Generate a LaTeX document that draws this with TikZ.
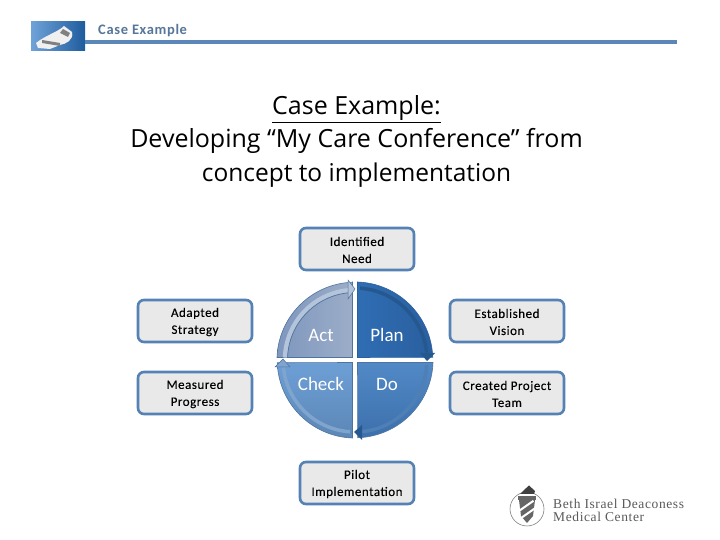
\documentclass[tikz,border=0pt]{standalone}
\usepackage{fontspec}
\setmainfont{Carlito}
\newfontfamily\titlefont{Open Sans}
\newfontfamily\boxfont[LetterSpace=4,FakeBold=0.1]{Carlito}
\newfontfamily\headfont[LetterSpace=4.5]{Carlito}
\newfontfamily\logofont[LetterSpace=4.5]{Liberation Serif}
\usetikzlibrary{calc}
\definecolor{rule}{HTML}{5B86B8}
\definecolor{hdr}{HTML}{56769A}
\definecolor{boxedge}{HTML}{5482B4}
\definecolor{boxfill}{HTML}{E9E9E9}
\definecolor{imgA}{HTML}{6FA3D8}
\definecolor{imgB}{HTML}{1F5C9E}
\definecolor{actA}{HTML}{7E97BE}
\definecolor{actB}{HTML}{9CADC8}
\definecolor{planA}{HTML}{2F6DB3}
\definecolor{planB}{HTML}{2A5F9F}
\definecolor{doA}{HTML}{5189C6}
\definecolor{doB}{HTML}{3C70AC}
\definecolor{chA}{HTML}{6D9FD6}
\definecolor{chB}{HTML}{5C87B6}
\definecolor{rim}{HTML}{4F739C}
\definecolor{bandL}{HTML}{B4C4DA}
\definecolor{bandD}{HTML}{24588F}
\definecolor{bandM}{HTML}{4E7FB5}
\definecolor{bandC}{HTML}{7FA5CF}
\tikzset{
  x=1pt,y=1pt,
  tag/.style={draw=boxedge,line width=2.6pt,fill=boxfill,rounded corners=6pt,minimum width=114pt,minimum height=42pt,inner sep=0pt,
    label={[inner sep=0pt,align=center,text=black,font=\boxfont\fontsize{13}{17}\selectfont,yshift=-1pt]center:#1}},
  ttl/.style={font=\titlefont\fontsize{25}{30}\selectfont,text=black,inner sep=0pt,anchor=base},
  quadlabel/.style={text=white,font=\fontsize{19}{20}\selectfont,inner sep=0pt},
}
\begin{document}
\begin{tikzpicture}
\useasboundingbox (0,0) rectangle (720,540);
% header picture
\shade[left color=imgA,right color=imgB] (31,489) rectangle (85,518);
\fill[white!88!gray] (36,497) .. controls (46,505) and (58,508) .. (64,514) -- (72,508) .. controls (74,500) and (66,496) .. (60,495) -- (50,491) -- (38,492) -- cycle;
\fill[black!50] (42,497) -- (60,494) -- (60,497) -- (42,500) -- cycle;
\fill[black!50] (60,507) -- (68,503) -- (70,507) -- (63,511) -- cycle;
\draw[rule,line width=3.4pt] (85,498) -- (677,498);
\node[anchor=base west,inner sep=0pt,text=hdr,font=\headfont\bfseries\fontsize{14.5}{16}\selectfont] (head) at (98,505) {Case Example};
% title
\node[ttl] (t1) at (356.5,425.5) {\underline{Case Example:}};
\node[ttl] (t2) at (356.5,392) {Developing “My Care Conference” from};
\node[ttl,font=\titlefont\fontsize{24.5}{30}\selectfont] (t3) at (356.5,358) {concept to implementation};
% boxes
\node[tag={Identified\\Need}] (need) at (357,291) {};
\node[tag={Adapted\\Strategy}] (adapt) at (195,219) {};
\node[tag={Measured\\Progress}] (meas) at (195,147) {};
\node[tag={Established\\Vision}] (vision) at (507,219) {};
\node[tag={Created Project\\Team}] (team) at (507,147) {};
\node[tag={Pilot\\Implementation}] (pilot) at (357,57) {};
% PDCA wheel
\coordinate (c) at (355,180);
\def\R{78}
% quadrants
\path[left color=actA,right color=actB,draw=rim,line width=.6pt]
  ($(c)+(-2.5,2.5)$) -- ($(c)+(-\R,2.5)$) arc[start angle=178,end angle=92,radius=\R] -- ($(c)+(-2.5,\R)$) -- cycle;
\path[left color=planA,right color=planB,draw=planB,line width=.6pt]
  ($(c)+(2.5,2.5)$) -- ($(c)+(2.5,\R)$) arc[start angle=88,end angle=2,radius=\R] -- cycle;
\path[top color=doA,bottom color=doB,draw=rim,line width=.6pt]
  ($(c)+(2.5,-2.5)$) -- ($(c)+(\R,-2.5)$) arc[start angle=-2,end angle=-88,radius=\R] -- cycle;
\path[top color=chA,bottom color=chB,draw=rim,line width=.6pt]
  ($(c)+(-2.5,-2.5)$) -- ($(c)+(-2.5,-\R)$) arc[start angle=268,end angle=182,radius=\R] -- cycle;
% arrow bands
\draw[bandL,line width=4.5pt] ($(c)+(178:70)$) arc[start angle=178,end angle=95,radius=70];
\draw[rim,line width=.7pt] ($(c)+(178:67.5)$) arc[start angle=178,end angle=95,radius=67.5];
\fill[bandL,draw=rim,line width=.5pt] ($(c)+(-7,80)$) -- ($(c)+(0,71)$) -- ($(c)+(-7,61)$) -- cycle;
\draw[bandD,line width=3.5pt] ($(c)+(86:72)$) arc[start angle=86,end angle=6,radius=72];
\fill[bandD] ($(c)+(65,7)$) -- ($(c)+(80,7)$) -- ($(c)+(72,-1)$) -- cycle;
\draw[bandM,line width=3.5pt] ($(c)+(-4:72)$) arc[start angle=-4,end angle=-85,radius=72];
\fill[bandD] ($(c)+(7,-65)$) -- ($(c)+(7,-80)$) -- ($(c)+(-1,-72)$) -- cycle;
\draw[bandC,line width=3.5pt] ($(c)+(-94:72)$) arc[start angle=266,end angle=186,radius=72];
\fill[bandC,draw=rim,line width=.5pt] ($(c)+(-65,-7)$) -- ($(c)+(-80,-7)$) -- ($(c)+(-72,1)$) -- cycle;
% labels
\node[quadlabel] (act) at (321,205) {Act};
\node[quadlabel] (plan) at (387,205) {Plan};
\node[quadlabel] (check) at (321,156) {Check};
\node[quadlabel] (do) at (387,156) {Do};
% logo
\draw[black!50,line width=.6pt] (527,31) circle[radius=17];
\fill[black!75] (520,46) -- (524,50) -- (529,54.5) -- (535,49) -- (534,46) -- cycle;
\fill[black!60] (518,44) rectangle (536,40);
\fill[black!60] (519,40) -- (535,40) -- (533,24) -- (527,17) -- (521,24) -- cycle;
\fill[white,rotate around={35:(527,31)}] (517,33) rectangle (537,35);
\fill[white,rotate around={35:(527,31)}] (517,26) rectangle (537,28);
\node[anchor=base west,inner sep=0pt,text=black!65,font=\logofont\fontsize{13.5}{15}\selectfont] (bi) at (553,31) {Beth Israel Deaconess};
\node[anchor=base west,inner sep=0pt,text=black!65,font=\logofont\fontsize{13.5}{15}\selectfont] (mc) at (553,18) {Medical Center};
\end{tikzpicture}
\end{document}
